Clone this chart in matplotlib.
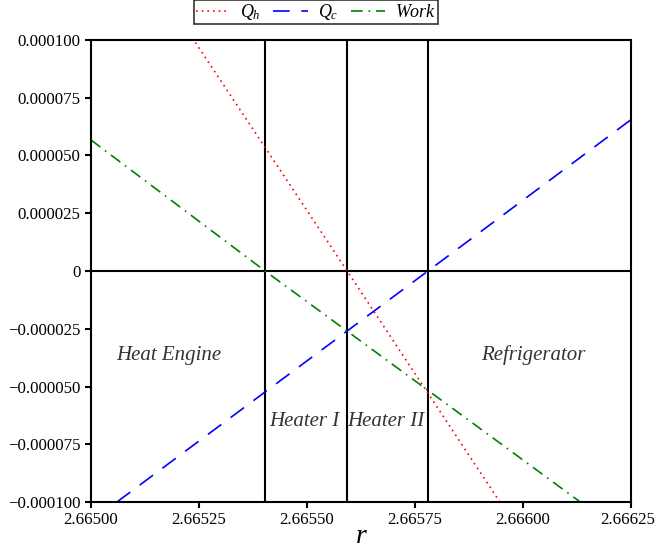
import matplotlib.pyplot as plt
from matplotlib.ticker import FuncFormatter
from matplotlib.transforms import ScaledTranslation

plt.rcParams['font.family'] = ['Liberation Serif', 'DejaVu Serif']
plt.rcParams['mathtext.fontset'] = 'custom'
plt.rcParams['mathtext.it'] = 'Liberation Serif:italic'
plt.rcParams['mathtext.rm'] = 'Liberation Serif'

# data (line endpoints / zero crossings)
r_qh = [2.665220, 2.665593, 2.665950]
qh = [0.000105, 0.0, -0.000101]
r_qc = [2.665060, 2.665780, 2.666250]
qc = [-0.0001, 0.0, 0.0000655]
r_work = [2.665000, 2.665403, 2.666140]
work = [0.0000567, 0.0, -0.000101]

# region boundaries
r_bounds = [2.665403, 2.665593, 2.665780]

xticks = [2.665, 2.66525, 2.6655, 2.66575, 2.666, 2.66625]
yticks = [-0.0001, -0.000075, -0.00005, -0.000025, 0, 0.000025, 0.00005, 0.000075, 0.0001]

fig = plt.figure(figsize=(6.57, 5.56), dpi=100)
ax = fig.add_axes([0.1385, 0.0971, 0.8219, 0.831])

ax.axhline(0, color='black', lw=1.5)
for rb in r_bounds:
    ax.axvline(rb, color='black', lw=1.5)

ax.plot(r_qh, qh, color='red', lw=1.2, linestyle=(0, (1, 2.4)), label='$Q_h$')
ax.plot(r_qc, qc, color='blue', lw=1.2, linestyle=(0, (10, 7)), label='$Q_c$')
ax.plot(r_work, work, color='green', lw=1.2, linestyle=(0, (7, 3.5, 1, 3.5)), label='$Work$')

ax.set_xlim(2.665, 2.66625)
ax.set_ylim(-0.0001, 0.0001)
ax.set_xticks(xticks)
ax.set_yticks(yticks)


def yfmt(v, pos):
    if abs(v) < 1e-12:
        return '0'
    s = '%.6f' % abs(v)
    return ('\u2212' + s) if v < 0 else s


ax.yaxis.set_major_formatter(FuncFormatter(yfmt))
ax.xaxis.set_major_formatter(FuncFormatter(lambda v, p: '%.5f' % v))
ax.tick_params(direction='out', width=1.5, length=4.5, labelsize=12.2, pad=3)
for s in ax.spines.values():
    s.set_linewidth(1.5)

# keep the last x tick label inside the figure
last = ax.xaxis.get_major_ticks()[-1].label1
last.set_transform(last.get_transform() + ScaledTranslation(-3 / 100, 0, fig.dpi_scale_trans))

ax.set_xlabel('r', fontsize=20, style='italic', labelpad=-3)

txt = dict(fontsize=15, style='italic', color='#333333', ha='center', va='center')
ax.text(2.66518, -0.0000365, 'Heat Engine', **txt)
ax.text(2.666023, -0.0000365, 'Refrigerator', **txt)
ax.text(2.665493, -0.000065, 'Heater I', **txt)
ax.text(2.665683, -0.000065, 'Heater II', **txt)

leg = fig.legend(loc='upper center', bbox_to_anchor=(0.481, 1.003), ncol=3,
                 frameon=True, fancybox=False, edgecolor='black', fontsize=13,
                 handlelength=1.9, columnspacing=0.7, borderpad=0.12,
                 handletextpad=0.55, borderaxespad=0.1)
leg.get_frame().set_linewidth(1.2)

fig.savefig('out.png', dpi=100)
